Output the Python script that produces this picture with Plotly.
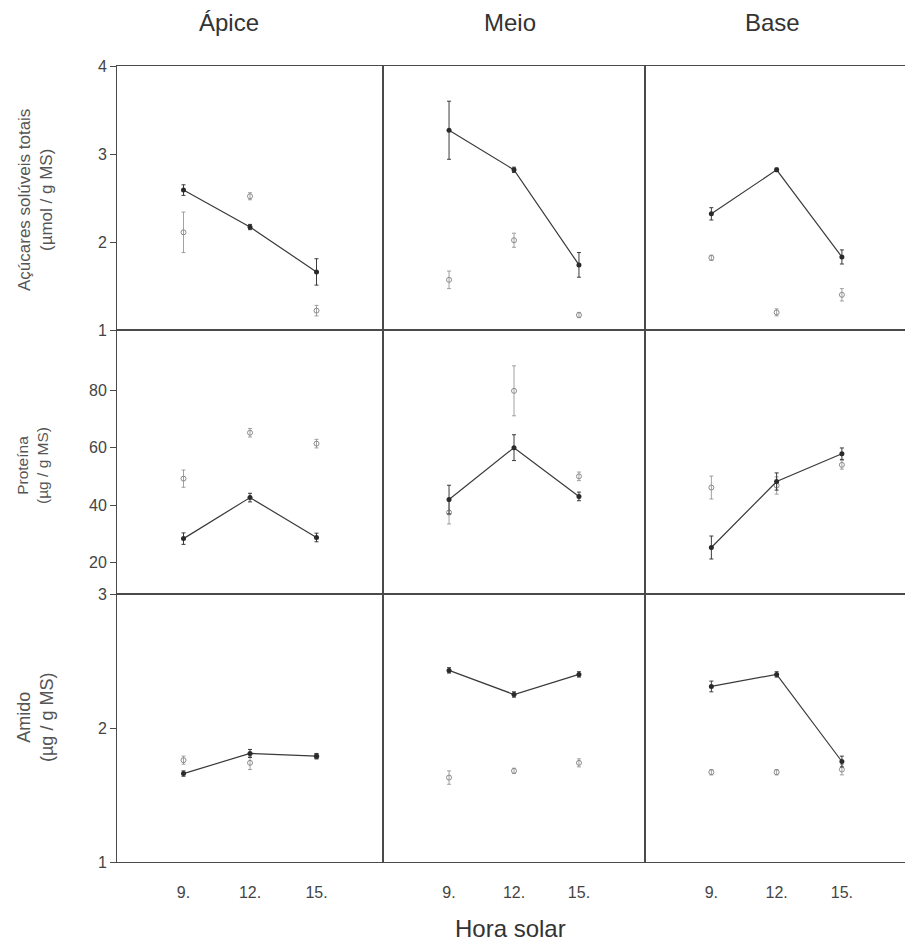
import plotly.graph_objects as go

# ---------------- data ----------------
hours = [9, 12, 15]
hour_labels = ["9.", "12.", "15."]
col_titles = ["Ápice", "Meio", "Base"]
row_titles = ["Açúcares solúveis totais<br>(µmol / g MS)", "Proteína<br>(µg / g MS)", "Amido<br>(µg / g MS)"]

# Açúcares solúveis totais (filled = connected series, open = second series)
suc_filled_apice = [2.59, 2.17, 1.66]
suc_filled_apice_err = [0.06, 0.03, 0.15]
suc_open_apice = [2.11, 2.52, 1.22]
suc_open_apice_err = [0.23, 0.04, 0.06]
suc_filled_meio = [3.27, 2.82, 1.74]
suc_filled_meio_err = [0.33, 0.03, 0.14]
suc_open_meio = [1.57, 2.02, 1.17]
suc_open_meio_err = [0.10, 0.08, 0.03]
suc_filled_base = [2.32, 2.82, 1.83]
suc_filled_base_err = [0.07, 0.02, 0.08]
suc_open_base = [1.82, 1.20, 1.40]
suc_open_base_err = [0.03, 0.04, 0.07]

# Proteína
prot_filled_apice = [28.3, 42.6, 28.7]
prot_filled_apice_err = [2.0, 1.5, 1.5]
prot_open_apice = [49.2, 65.2, 61.4]
prot_open_apice_err = [3.0, 1.5, 1.5]
prot_filled_meio = [41.9, 60.0, 43.0]
prot_filled_meio_err = [5.0, 4.5, 1.5]
prot_open_meio = [37.4, 79.8, 50.0]
prot_open_meio_err = [4.0, 8.7, 1.5]
prot_filled_base = [25.2, 48.2, 57.9]
prot_filled_base_err = [4.0, 3.0, 2.0]
prot_open_base = [46.1, 46.8, 54.0]
prot_open_base_err = [4.0, 3.0, 1.5]

# Amido
ami_filled_apice = [1.66, 1.81, 1.79]
ami_filled_apice_err = [0.02, 0.03, 0.02]
ami_open_apice = [1.76, 1.74, 1.79]
ami_open_apice_err = [0.03, 0.05, 0.02]
ami_filled_meio = [2.43, 2.25, 2.40]
ami_filled_meio_err = [0.02, 0.02, 0.02]
ami_open_meio = [1.63, 1.68, 1.74]
ami_open_meio_err = [0.05, 0.02, 0.03]
ami_filled_base = [2.31, 2.40, 1.75]
ami_filled_base_err = [0.04, 0.02, 0.04]
ami_open_base = [1.67, 1.67, 1.69]
ami_open_base_err = [0.02, 0.02, 0.04]

y_ranges = [[1, 4], [9, 101], [1, 3]]
y_ticks = [[1, 2, 3, 4], [20, 40, 60, 80], [1, 2, 3]]

panels = [
    [(suc_filled_apice, suc_filled_apice_err, suc_open_apice, suc_open_apice_err),
     (suc_filled_meio, suc_filled_meio_err, suc_open_meio, suc_open_meio_err),
     (suc_filled_base, suc_filled_base_err, suc_open_base, suc_open_base_err)],
    [(prot_filled_apice, prot_filled_apice_err, prot_open_apice, prot_open_apice_err),
     (prot_filled_meio, prot_filled_meio_err, prot_open_meio, prot_open_meio_err),
     (prot_filled_base, prot_filled_base_err, prot_open_base, prot_open_base_err)],
    [(ami_filled_apice, ami_filled_apice_err, ami_open_apice, ami_open_apice_err),
     (ami_filled_meio, ami_filled_meio_err, ami_open_meio, ami_open_meio_err),
     (ami_filled_base, ami_filled_base_err, ami_open_base, ami_open_base_err)],
]

# ---------------- layout geometry ----------------
W, H = 905, 946
ML, MR, MT, MB = 117, 0, 66, 84
PW, PH = W - ML - MR, H - MT - MB
col_px = [117, 383, 645, 905]
row_px = [66, 330, 594, 862]
col_dom = [[(col_px[i] - ML) / PW, (col_px[i + 1] - ML) / PW] for i in range(3)]
row_dom = [[(H - MB - row_px[i + 1]) / PH, (H - MB - row_px[i]) / PH] for i in range(3)]
x_ranges = [[6, 18], [5.95, 18.05], [5.95, 17.9]]

FONT = "Liberation Sans, Arial, sans-serif"
LINE = "#4a4a4a"

fig = go.Figure()
layout = {}
for r in range(3):
    for c in range(3):
        k = r * 3 + c + 1
        xa = "x" if k == 1 else f"x{k}"
        ya = "y" if k == 1 else f"y{k}"
        filled, ferr, opn, oerr = panels[r][c]
        fig.add_trace(go.Scatter(
            x=hours, y=opn, mode="markers", xaxis=xa, yaxis=ya,
            marker=dict(symbol="circle-open", size=5, color="#8a8a8a", line=dict(width=1)),
            error_y=dict(type="data", array=oerr, color="#8a8a8a", thickness=0.8, width=2),
            showlegend=False))
        fig.add_trace(go.Scatter(
            x=hours, y=filled, mode="lines+markers", xaxis=xa, yaxis=ya,
            line=dict(color="#3a3a3a", width=1.2),
            marker=dict(symbol="circle", size=5, color="#2a2a2a"),
            error_y=dict(type="data", array=ferr, color="#3a3a3a", thickness=1, width=2),
            showlegend=False))
        xkey = "xaxis" if k == 1 else f"xaxis{k}"
        ykey = "yaxis" if k == 1 else f"yaxis{k}"
        layout[xkey] = dict(
            domain=col_dom[c], range=x_ranges[c], anchor=ya,
            showline=True, mirror=True, linecolor=LINE, linewidth=1,
            showgrid=False, zeroline=False,
            tickvals=hours, ticktext=hour_labels,
            showticklabels=(r == 2),
            ticks="outside" if r == 2 else "", ticklen=16, tickcolor="rgba(0,0,0,0)",
            tickfont=dict(family=FONT, size=16, color="#444"))
        layout[ykey] = dict(
            domain=row_dom[r],
            range=y_ranges[r], anchor=xa,
            showline=True, mirror=True, linecolor=LINE, linewidth=1,
            showgrid=False, zeroline=False,
            tickvals=y_ticks[r],
            showticklabels=(c == 0),
            ticks="outside" if c == 0 else "", ticklen=6, tickcolor=LINE,
            tickfont=dict(family=FONT, size=16, color="#444"))

annotations = []
title_x_px = [229, 510, 772]
for c in range(3):
    annotations.append(dict(
        text=col_titles[c], xref="paper", yref="paper",
        x=(title_x_px[c] - ML) / PW, y=(H - MB - 22) / PH,
        showarrow=False, font=dict(family=FONT, size=24, color="#333"),
        xanchor="center", yanchor="middle"))
row_center_px = [200, 466, 718]
row_title_x_px = [35, 33, 35]
row_title_size = [17, 15.5, 18]
for r in range(3):
    annotations.append(dict(
        text=row_titles[r], xref="paper", yref="paper",
        x=(row_title_x_px[r] - ML) / PW, y=(H - MB - row_center_px[r]) / PH,
        showarrow=False, textangle=-90,
        font=dict(family=FONT, size=row_title_size[r], color="#555"),
        xanchor="center", yanchor="middle"))
annotations.append(dict(
    text="Hora solar", xref="paper", yref="paper",
    x=(510 - ML) / PW, y=(H - MB - 928) / PH,
    showarrow=False, font=dict(family=FONT, size=24, color="#333"),
    xanchor="center", yanchor="middle"))

fig.update_layout(
    width=W, height=H,
    margin=dict(l=ML, r=MR, t=MT, b=MB),
    paper_bgcolor="white", plot_bgcolor="white",
    annotations=annotations,
    **layout)

fig.write_html("out.html",
               config={"displayModeBar": False},
               post_script="document.body.style.margin='0';document.body.style.overflow='hidden';")
